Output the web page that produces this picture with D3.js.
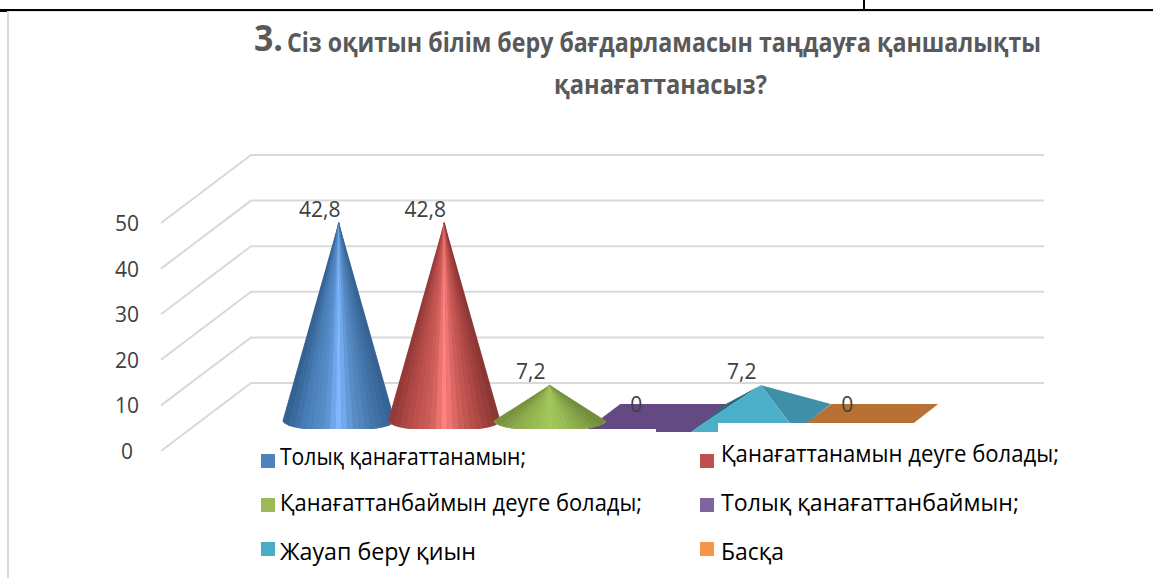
<!DOCTYPE html>
<html><head><meta charset="utf-8">
<script src="https://cdn.jsdelivr.net/npm/d3@7/dist/d3.min.js"></script>
<style>html,body{margin:0;padding:0;background:#fff;overflow:hidden}svg{display:block}</style>
</head><body><div id="c"></div>
<script>
const categories=["Толық қанағаттанамын;","Қанағаттанамын деуге болады;","Қанағаттанбаймын деуге болады;","Толық қанағаттанбаймын;","Жауап беру қиын","Басқа"];
const values=[42.8,42.8,7.2,0,7.2,0];
const valueLabels=["42,8","42,8","7,2","0","7,2","0"];
const yTicks=[0,10,20,30,40,50];
const legendColors=["#4f81bd","#c0504d","#9bbb59","#8064a2","#4bacc6","#f79646"];
const titleLine1="Сіз оқитын білім беру бағдарламасын таңдауға қаншалықты";
const titleLine2="қанағаттанасыз?";

const W=1153,H=578,F="'Open Sans','Noto Sans',sans-serif";
const svg=d3.select("#c").append("svg").attr("width",W).attr("height",H);
svg.append("rect").attr("width",W).attr("height",H).attr("fill","#fff");

// page frame
svg.append("rect").attr("x",7).attr("y",11).attr("width",W-7).attr("height",1).attr("fill","#e4e4e4");
svg.append("rect").attr("x",7).attr("y",11).attr("width",2).attr("height",H-11).attr("fill","#d9d9d9");
svg.append("rect").attr("x",0).attr("y",9).attr("width",W).attr("height",2).attr("fill","#000");
svg.append("rect").attr("x",0).attr("y",9).attr("width",7).attr("height",3).attr("fill","#000");
svg.append("rect").attr("x",863).attr("y",0).attr("width",2).attr("height",9).attr("fill","#000");

// title
svg.append("text").attr("x",254).attr("y",51).attr("fill","#595959").attr("font-family",F).attr("font-weight",700)
  .attr("font-size",35).attr("textLength",29).attr("lengthAdjust","spacingAndGlyphs").text("3.");
svg.append("text").attr("x",287).attr("y",52).attr("fill","#595959").attr("font-family",F).attr("font-weight",700)
  .attr("font-size",26).attr("textLength",754).attr("lengthAdjust","spacingAndGlyphs").text(titleLine1);
svg.append("text").attr("x",554).attr("y",94).attr("fill","#595959").attr("font-family",F).attr("font-weight",700)
  .attr("font-size",26).attr("textLength",213).attr("lengthAdjust","spacingAndGlyphs").text(titleLine2);

// scales: wall and cone planes share one value scale, shifted in depth
const yWall=d3.scaleLinear().domain([0,50]).range([383,155]);
const depthX=-90, depthY=68, wallL=251, wallR=1044;
const yCone=d3.scaleLinear().domain([0,50]).range([418,190]);
const x=d3.scaleBand().domain(d3.range(categories.length)).range([286,919]).padding(0);
const cx=i=>x(i)+x.bandwidth()/2;

svg.append("g").attr("stroke","#d9d9d9").attr("stroke-width",2).attr("fill","none")
  .selectAll("path").data(yTicks).join("path")
  .attr("d",d=>`M${wallL+depthX},${yWall(d)+depthY}L${wallL},${yWall(d)}H${wallR}`);

// y labels
svg.append("g").selectAll("text").data(yTicks).join("text")
  .attr("x",127).attr("y",d=>yWall(d)+depthY+8).attr("text-anchor","middle")
  .attr("font-family",F).attr("font-size",21).attr("fill","#404040").text(d=>d);

// cone shading, left to right across the base
const shade=[
 ["#2f5c8c","#4a7fb8","#5b90cc","#80b8ff","#5a8fc8","#4778ad","#33608f"],
 ["#8f3836","#b84d4a","#cf5f5b","#ff8280","#cf5f5b","#b04a47","#853432"],
 ["#748f3e","#8fae4e","#9bbf58","#a3c95c","#9bbf58","#89a74a","#6f8a3a"]
];
const shadeAt=[0,.2,.38,.5,.64,.8,1];
const rx=56, ry=10, baseY=421, facets=d3.range(19);
const marks=svg.append("g");

function cone(i){
  const c=cx(i), ay=yCone(values[i]);
  const col=d3.scaleLinear().domain(shadeAt).range(shade[i]);
  const pt=t=>{const u=2*t-1;return [c+u*rx, baseY+ry*Math.sqrt(Math.max(0,1-u*u))];};
  marks.append("path")
    .attr("d",`M${c},${ay}L${c+rx},${baseY}A${rx},${ry} 0 0 1 ${c-rx},${baseY}Z`)
    .attr("fill",shade[i][1]);
  marks.append("g").selectAll("path").data(facets).join("path")
    .attr("d",k=>{const a=pt(k/facets.length),b=pt((k+1)/facets.length);
      return `M${c},${ay}L${a[0]},${a[1]}L${b[0]},${b[1]}Z`;})
    .attr("fill",k=>col((k+.5)/facets.length))
    .attr("stroke",k=>col((k+.5)/facets.length)).attr("stroke-width",.3);
}
function flat(i,color){
  const c=cx(i), top=404, bot=432;
  marks.append("path").attr("d",`M${c-35},${top}H${c+72}L${c+36},${bot}H${c-72}Z`).attr("fill",color);
}
flat(3,"#644a82");
flat(5,"#b97034");
cone(0);cone(1);cone(2);
{ // low cone clipped by the legend panel
  const c=cx(4), ay=yCone(values[4]);
  marks.append("path").attr("d",`M${c},${ay}L${c-35},404L${c-70},432Z`).attr("fill","#2f6a80");
  marks.append("path").attr("d",`M${c},${ay}L${c+70},404L${c+46},423H${c+29}Z`).attr("fill","#3f8fa9");
  marks.append("path").attr("d",`M${c},${ay}L${c+29},423V432H${c-70}Z`).attr("fill","#4bafca");
}

// white legend panel overlapping the marks
const mask=svg.append("g").attr("fill","#fff");
mask.append("rect").attr("x",255).attr("y",429).attr("width",401).attr("height",149);
mask.append("rect").attr("x",656).attr("y",432).attr("width",497).attr("height",146);
mask.append("rect").attr("x",718).attr("y",423).attr("width",435).attr("height",155);

// value labels
svg.append("g").selectAll("text").data(values).join("text")
  .attr("x",(d,i)=>cx(i)-19).attr("y",d=>yCone(d)-6).attr("text-anchor","middle")
  .attr("font-family",F).attr("font-size",21).attr("fill","#404040").text((d,i)=>valueLabels[i]);

// legend
const lx=[261,700], ly=[454,498,542], tx=[280,721], tb=[[465,462],[511,511],[560,560]];
const lw=[246,338,362,298,196,63];
const leg=svg.append("g");
categories.forEach((c,i)=>{
  const col=i%2,row=Math.floor(i/2);
  leg.append("rect").attr("x",lx[col]).attr("y",ly[row]).attr("width",14).attr("height",14).attr("fill",legendColors[i]);
  leg.append("text").attr("x",tx[col]).attr("y",tb[row][col]).attr("font-family",F).attr("font-size",23).attr("fill","#000")
    .attr("textLength",lw[i]).attr("lengthAdjust","spacingAndGlyphs").text(c);
});
</script></body></html>
